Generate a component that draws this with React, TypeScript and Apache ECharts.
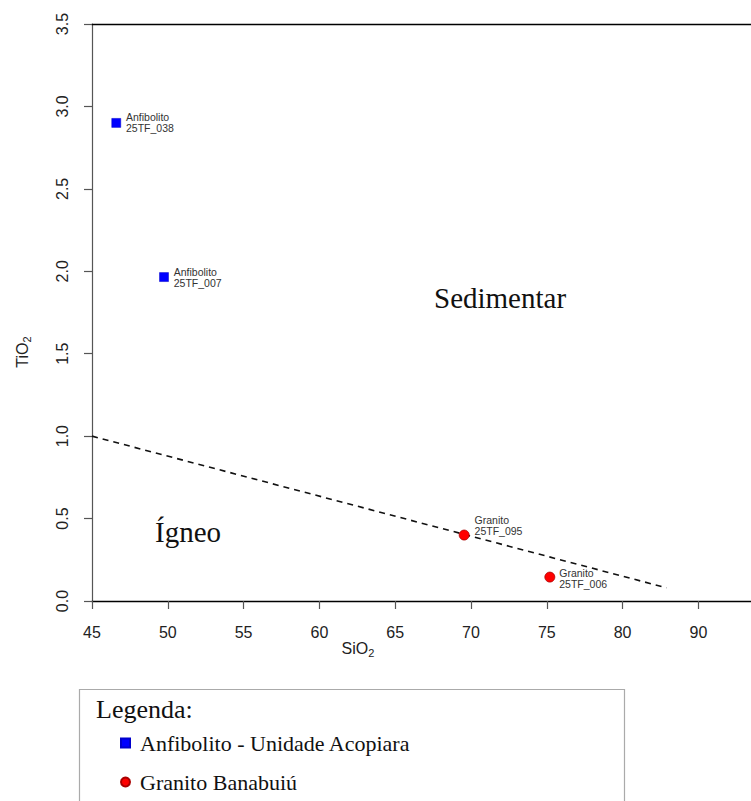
import React, { useEffect, useRef } from 'react';
import * as echarts from 'echarts';

const anfLabels = ['Anfibolito', 'Anfibolito'];
const anfIds = ['25TF_038', '25TF_007'];
const anfSiO2 = [46.6, 49.75];
const anfTiO2 = [2.9, 1.965];

const graLabels = ['Granito', 'Granito'];
const graIds = ['25TF_095', '25TF_006'];
const graSiO2 = [69.55, 75.2];
const graTiO2 = [0.4, 0.145];

const boundarySiO2 = [45, 82.9];
const boundaryTiO2 = [1.0, 0.08];

const xTicks = [45, 50, 55, 60, 65, 70, 75, 80, 85];
const xTickLabels = ['45', '50', '55', '60', '65', '70', '75', '80', '90'];
const yTicks = [0, 0.5, 1, 1.5, 2, 2.5, 3, 3.5];

const seriesNames = ['Anfibolito - Unidade Acopiara', 'Granito Banabuiú'];

const SANS = 'Liberation Sans, Arial, Helvetica, sans-serif';
const SERIF = 'Liberation Serif, Times New Roman, serif';

export default function App() {
  const ref = useRef<HTMLDivElement>(null);
  useEffect(() => {
    if (!ref.current) return;
    const chart = echarts.init(ref.current, undefined, { renderer: 'svg' });
    const pointLabel = {
      show: true,
      position: 'right',
      distance: 5,
      fontFamily: SANS,
      fontSize: 10.5,
      lineHeight: 11,
      color: '#333',
      align: 'left',
    };
    const option: any = {
      animation: false,
      backgroundColor: '#fff',
      grid: { left: 92, top: 24, right: 0, bottom: 200, containLabel: false },
      xAxis: [
        {
          type: 'value',
          min: 45,
          max: 88.47,
          interval: 5,
          splitLine: { show: false },
          axisLine: { show: true, onZero: false, lineStyle: { color: '#000', width: 1.3 } },
          axisTick: {
            show: true,
            length: 8,
            customValues: xTicks,
            lineStyle: { color: '#555', width: 1.2 },
          },
          axisLabel: {
            customValues: xTicks,
            margin: 23,
            fontFamily: SANS,
            fontSize: 16,
            color: '#222',
            formatter: (v: number) => {
              const i = xTicks.indexOf(v);
              return i >= 0 ? xTickLabels[i] : '';
            },
          },
        },
        {
          type: 'value',
          position: 'top',
          min: 45,
          max: 88.47,
          splitLine: { show: false },
          axisLine: { show: true, onZero: false, lineStyle: { color: '#000', width: 1.3 } },
          axisTick: { show: false },
          axisLabel: { show: false },
        },
      ],
      yAxis: {
        type: 'value',
        min: 0,
        max: 3.5,
        interval: 0.5,
        splitLine: { show: false },
        axisLine: { show: true, onZero: false, lineStyle: { color: '#555', width: 1.2 } },
        axisTick: { show: true, length: 8, customValues: yTicks, lineStyle: { color: '#555', width: 1.2 } },
        axisLabel: {
          rotate: 90,
          margin: 22,
          fontFamily: SANS,
          fontSize: 16,
          color: '#222',
          formatter: (v: number) => v.toFixed(1),
        },
      },
      legend: {
        orient: 'vertical',
        left: 115,
        top: 727,
        itemWidth: 9,
        itemHeight: 9,
        itemGap: 17,
        data: seriesNames,
        textStyle: {
          fontFamily: SERIF,
          fontSize: 22,
          color: '#111',
          padding: [0, 0, 0, 5],
        },
      },
      series: [
        {
          name: 'boundary',
          type: 'line',
          data: boundarySiO2.map((x, i) => [x, boundaryTiO2[i]]),
          symbol: 'none',
          lineStyle: { color: '#111', width: 1.6, type: [6, 5] },
          z: 1,
          silent: true,
        },
        {
          name: seriesNames[0],
          type: 'scatter',
          symbol: 'rect',
          symbolSize: 9,
          itemStyle: { color: '#0000ff', borderColor: '#0000cc', borderWidth: 0.5, opacity: 1 },
          data: anfSiO2.map((x, i) => ({
            value: [x, anfTiO2[i]],
            label: { ...pointLabel, formatter: `${anfLabels[i]}\n${anfIds[i]}` },
          })),
          z: 3,
        },
        {
          name: seriesNames[1],
          type: 'scatter',
          symbol: 'circle',
          symbolSize: 10,
          itemStyle: { color: '#ff0000', borderColor: '#aa0000', borderWidth: 0.8, opacity: 1 },
          data: graSiO2.map((x, i) => ({
            value: [x, graTiO2[i]],
            label: {
              ...pointLabel,
              formatter: `${graLabels[i]}\n${graIds[i]}`,
              offset: i === 0 ? [0, -10] : [-1, 1],
            },
          })),
          z: 3,
        },
      ],
      graphic: [
        {
          type: 'text',
          left: 434,
          top: 283,
          style: { text: 'Sedimentar', font: `29px ${SERIF}`, fill: '#111' },
        },
        {
          type: 'text',
          left: 155,
          top: 517,
          style: { text: 'Ígneo', font: `29px ${SERIF}`, fill: '#111' },
        },
        {
          type: 'text',
          x: 358,
          y: 648,
          style: {
            text: '{a|SiO}{b|2}',
            align: 'center',
            verticalAlign: 'middle',
            rich: {
              a: { fontFamily: SANS, fontSize: 16, fill: '#222', color: '#222' },
              b: { fontFamily: SANS, fontSize: 11, fill: '#222', color: '#222', padding: [9, 0, 0, 0] },
            },
          },
        },
        {
          type: 'text',
          x: 22,
          y: 352,
          rotation: Math.PI / 2,
          style: {
            text: '{a|TiO}{b|2}',
            align: 'center',
            verticalAlign: 'middle',
            rich: {
              a: { fontFamily: SANS, fontSize: 16, fill: '#222', color: '#222' },
              b: { fontFamily: SANS, fontSize: 11, fill: '#222', color: '#222', padding: [9, 0, 0, 0] },
            },
          },
        },
        {
          type: 'rect',
          shape: { x: 79.5, y: 689.5, width: 545, height: 130 },
          style: { fill: 'none', stroke: '#aaa', lineWidth: 1.2 },
          z: -1,
        },
        {
          type: 'text',
          left: 96,
          top: 696,
          style: { text: 'Legenda:', font: `26px ${SERIF}`, fill: '#111' },
        },
      ],
    };
    chart.setOption(option);
    return () => chart.dispose();
  }, []);
  return (
    <div
      ref={ref}
      style={{ position: 'fixed', left: 0, top: 0, width: 751, height: 801, background: '#fff' }}
    />
  );
}
